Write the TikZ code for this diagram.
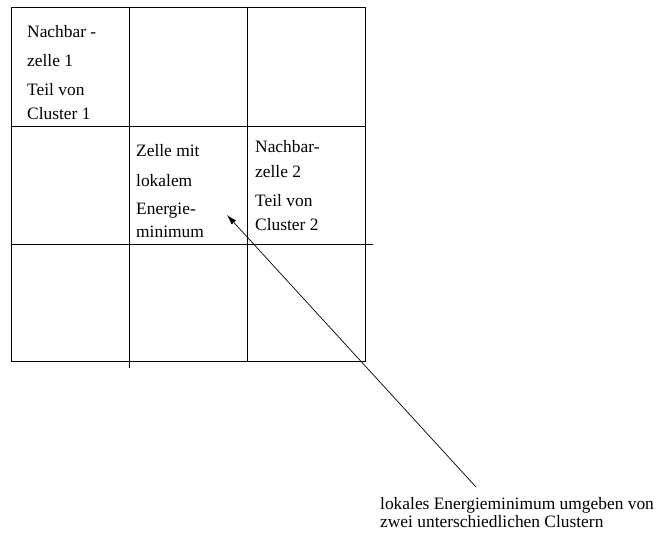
\documentclass[tikz,border=0pt]{standalone}
\usepackage{fontspec}
\setmainfont{Liberation Serif}
\usetikzlibrary{arrows.meta,positioning}
\tikzset{
  gridline/.style = {line width=1pt, black},
  celltext/.style = {anchor=base west, inner sep=0pt, align=left, font=\fontsize{17.4}{20}\selectfont},
  pointer/.style = {-{Latex[length=10pt,width=6pt]}, line width=0.7pt},
}

\begin{document}
\begin{tikzpicture}[x=1pt, y=-1pt]
\useasboundingbox (0,0) rectangle (659,535);

% grid of 3x3 cells
\draw[gridline] (11,8) rectangle (365,361);
\draw[gridline] (11,126) -- (365,126);
\draw[gridline] (11,244) -- (373,244);
\draw[gridline] (129,8) -- (129,368);
\draw[gridline] (247,8) -- (247,361);

% cell texts (anchored at the last line)
\node[celltext] (nachbar1) at (27,119)
  {Nachbar -\\[9pt]zelle 1\\[9pt]Teil von\\[4pt]Cluster 1};
\node[celltext] (minimum) at (136,237)
  {Zelle mit\\[9.5pt]lokalem\\[8.5pt]Energie-\\[2.5pt]minimum};
\node[celltext] (nachbar2) at (255,230)
  {Nachbar-\\[5.5pt]zelle 2\\[9pt]Teil von\\[3.5pt]Cluster 2};

% explanation with arrow
\node[celltext, font=\fontsize{17.4}{17.7}\selectfont] (erklaerung) at (380,527)
  {lokales Energieminimum umgeben von\\zwei unterschiedlichen Clustern};
\coordinate (tail) at (476,487);
\coordinate (tip) at (227,215);
\draw[pointer] (tail) -- (tip);

\end{tikzpicture}
\end{document}
